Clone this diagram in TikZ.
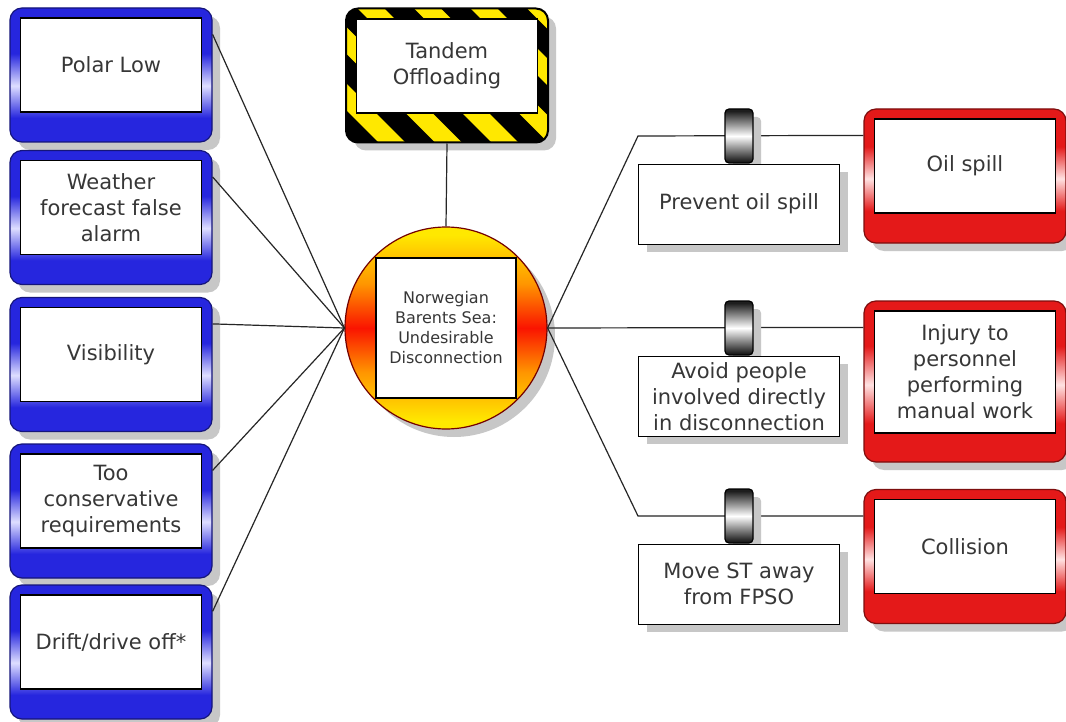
\documentclass[tikz,border=0pt]{standalone}
\usepackage{fontspec}
\setmainfont{DejaVu Sans}
\usetikzlibrary{positioning,shadows}

\definecolor{threatblue}{RGB}{38,38,222}
\definecolor{threatlight}{RGB}{222,222,255}
\definecolor{conred}{RGB}{228,25,25}
\definecolor{conlight}{RGB}{255,226,226}
\definecolor{hazyellow}{RGB}{255,232,0}
\definecolor{evorange}{RGB}{255,150,0}
\definecolor{evred}{RGB}{250,20,0}
\definecolor{cyldark}{RGB}{30,30,30}
\definecolor{txtgrey}{RGB}{55,55,55}

\pgfdeclareverticalshading{threatshade}{100bp}{color(0bp)=(threatblue); color(34bp)=(threatblue); color(46bp)=(threatlight); color(58bp)=(threatblue); color(100bp)=(threatblue)}
\pgfdeclareverticalshading{conshade}{100bp}{color(0bp)=(conred); color(37bp)=(conred); color(49bp)=(conlight); color(61bp)=(conred); color(100bp)=(conred)}
\pgfdeclareverticalshading{evshade}{100bp}{color(0bp)=(hazyellow); color(27bp)=(hazyellow); color(39bp)=(evorange); color(50bp)=(evred); color(61bp)=(evorange); color(73bp)=(hazyellow); color(100bp)=(hazyellow)}
\pgfdeclareverticalshading{cylshade}{100bp}{color(0bp)=(cyldark); color(27bp)=(cyldark); color(50bp)=(white); color(73bp)=(cyldark); color(100bp)=(cyldark)}

\tikzset{
  shadowed/.style={drop shadow={shadow xshift=4pt, shadow yshift=-4pt, fill=black!22, opacity=1}},
  shade box/.style={rounded corners=6pt, draw=#1!55!black, line width=0.6pt,
    minimum width=101pt, minimum height=67pt, inner sep=0pt, shadowed},
  threat/.style={shade box=threatblue, shade, shading=threatshade},
  consequence/.style={shade box=conred, shade, shading=conshade},
  hazard/.style={rounded corners=6pt, draw=black, line width=1pt, fill=black,
    minimum width=101pt, minimum height=67pt, inner sep=0pt, shadowed,
    path picture={
      \foreach \n in {-1,...,5}
        \draw[hazyellow, line width=9.5pt]
          ([xshift={(\n*28.25-54)*1pt}, yshift=10pt]path picture bounding box.north west)
          -- ++(100pt,-100pt);
    }},
  boxtext/.style={font=\fontsize{10.5}{13}\selectfont, text=txtgrey, align=center},
  label box/.style={draw=black, fill=white, line width=0.6pt, inner sep=2pt,
    minimum width=90.5pt, minimum height=47pt, boxtext},
  event/.style={circle, draw=black!55!red, line width=0.6pt, minimum size=101pt,
    shade, shading=evshade, shadowed},
  event text/.style={draw=black, fill=white, line width=0.6pt, minimum size=70pt,
    inner sep=1pt, align=center, text=txtgrey, font=\fontsize{8}{10}\selectfont},
  barrier/.style={draw=black, fill=white, line width=0.6pt, minimum width=100.5pt,
    minimum height=40pt, inner sep=2pt, boxtext, shadowed},
  barrier cyl/.style={draw=black, rounded corners=2pt, line width=0.6pt,
    minimum width=14pt, minimum height=27pt, inner sep=0pt,
    shade, shading=cylshade, shadowed},
  link/.style={draw=black!85, line width=0.6pt}
}

\begin{document}
\begin{tikzpicture}[x=0.5pt,y=-0.5pt]
\path[fill=white, use as bounding box] (0,0) rectangle (1066,722);
%
% threats
\node[threat] (t1) at (111,75) {};
\node[label box, below=5pt of t1.north] (t1l) {Polar Low};
\node[threat] (t2) at (111,217.5) {};
\node[label box, below=5pt of t2.north] (t2l) {Weather\\forecast false\\alarm};
\node[threat] (t3) at (111,364.5) {};
\node[label box, below=5pt of t3.north] (t3l) {Visibility};
\node[threat] (t4) at (111,511) {};
\node[label box, below=5pt of t4.north] (t4l) {Too\\conservative\\requirements};
\node[threat] (t5) at (111,652) {};
\node[label box, below=5pt of t5.north] (t5l) {Drift/drive off*};
%
% hazard and top event
\node[hazard] (haz) at (447,75.5) {};
\node[label box, below=5.5pt of haz.north] (hazl) {Tandem\\Offloading};
\node[event] (ev) at (446,328) {};
\node[event text] (evl) at (ev.center) {Norwegian\\Barents Sea:\\Undesirable\\Disconnection};
%
% consequences
\node[consequence] (c1) at (965,176) {};
\node[label box, below=5pt of c1.north] (c1l) {Oil spill};
\node[consequence, minimum height=80.5pt] (c2) at (965,381.5) {};
\node[label box, minimum height=61pt, below=5pt of c2.north] (c2l) {Injury to\\personnel\\performing\\manual work};
\node[consequence] (c3) at (965,556.5) {};
\node[label box, below=5pt of c3.north] (c3l) {Collision};
%
% connectors
\foreach \i in {1,...,5}
  \draw[link] ([yshift=-13.5pt]t\i.north east) -- (ev.west);
\draw[link] (haz.south) -- (ev.north);
\coordinate (k1) at (638,136);
\coordinate (k3) at (638,516);
\draw[link] (ev.east) -- (k1) -- ([yshift=-13.5pt]c1.north west);
\draw[link] (ev.east) -- ([yshift=-13.5pt]c2.north west);
\draw[link] (ev.east) -- (k3) -- ([yshift=-13.5pt]c3.north west);
%
% barriers
\node[barrier cyl] (cy1) at (739,136) {};
\node[barrier, below=0pt of cy1] (b1) {Prevent oil spill};
\node[barrier cyl] (cy2) at (739,328) {};
\node[barrier, below=0pt of cy2] (b2) {Avoid people\\involved directly\\in disconnection};
\node[barrier cyl] (cy3) at (739,516) {};
\node[barrier, below=0pt of cy3] (b3) {Move ST away\\from FPSO};
%
\end{tikzpicture}
\end{document}
